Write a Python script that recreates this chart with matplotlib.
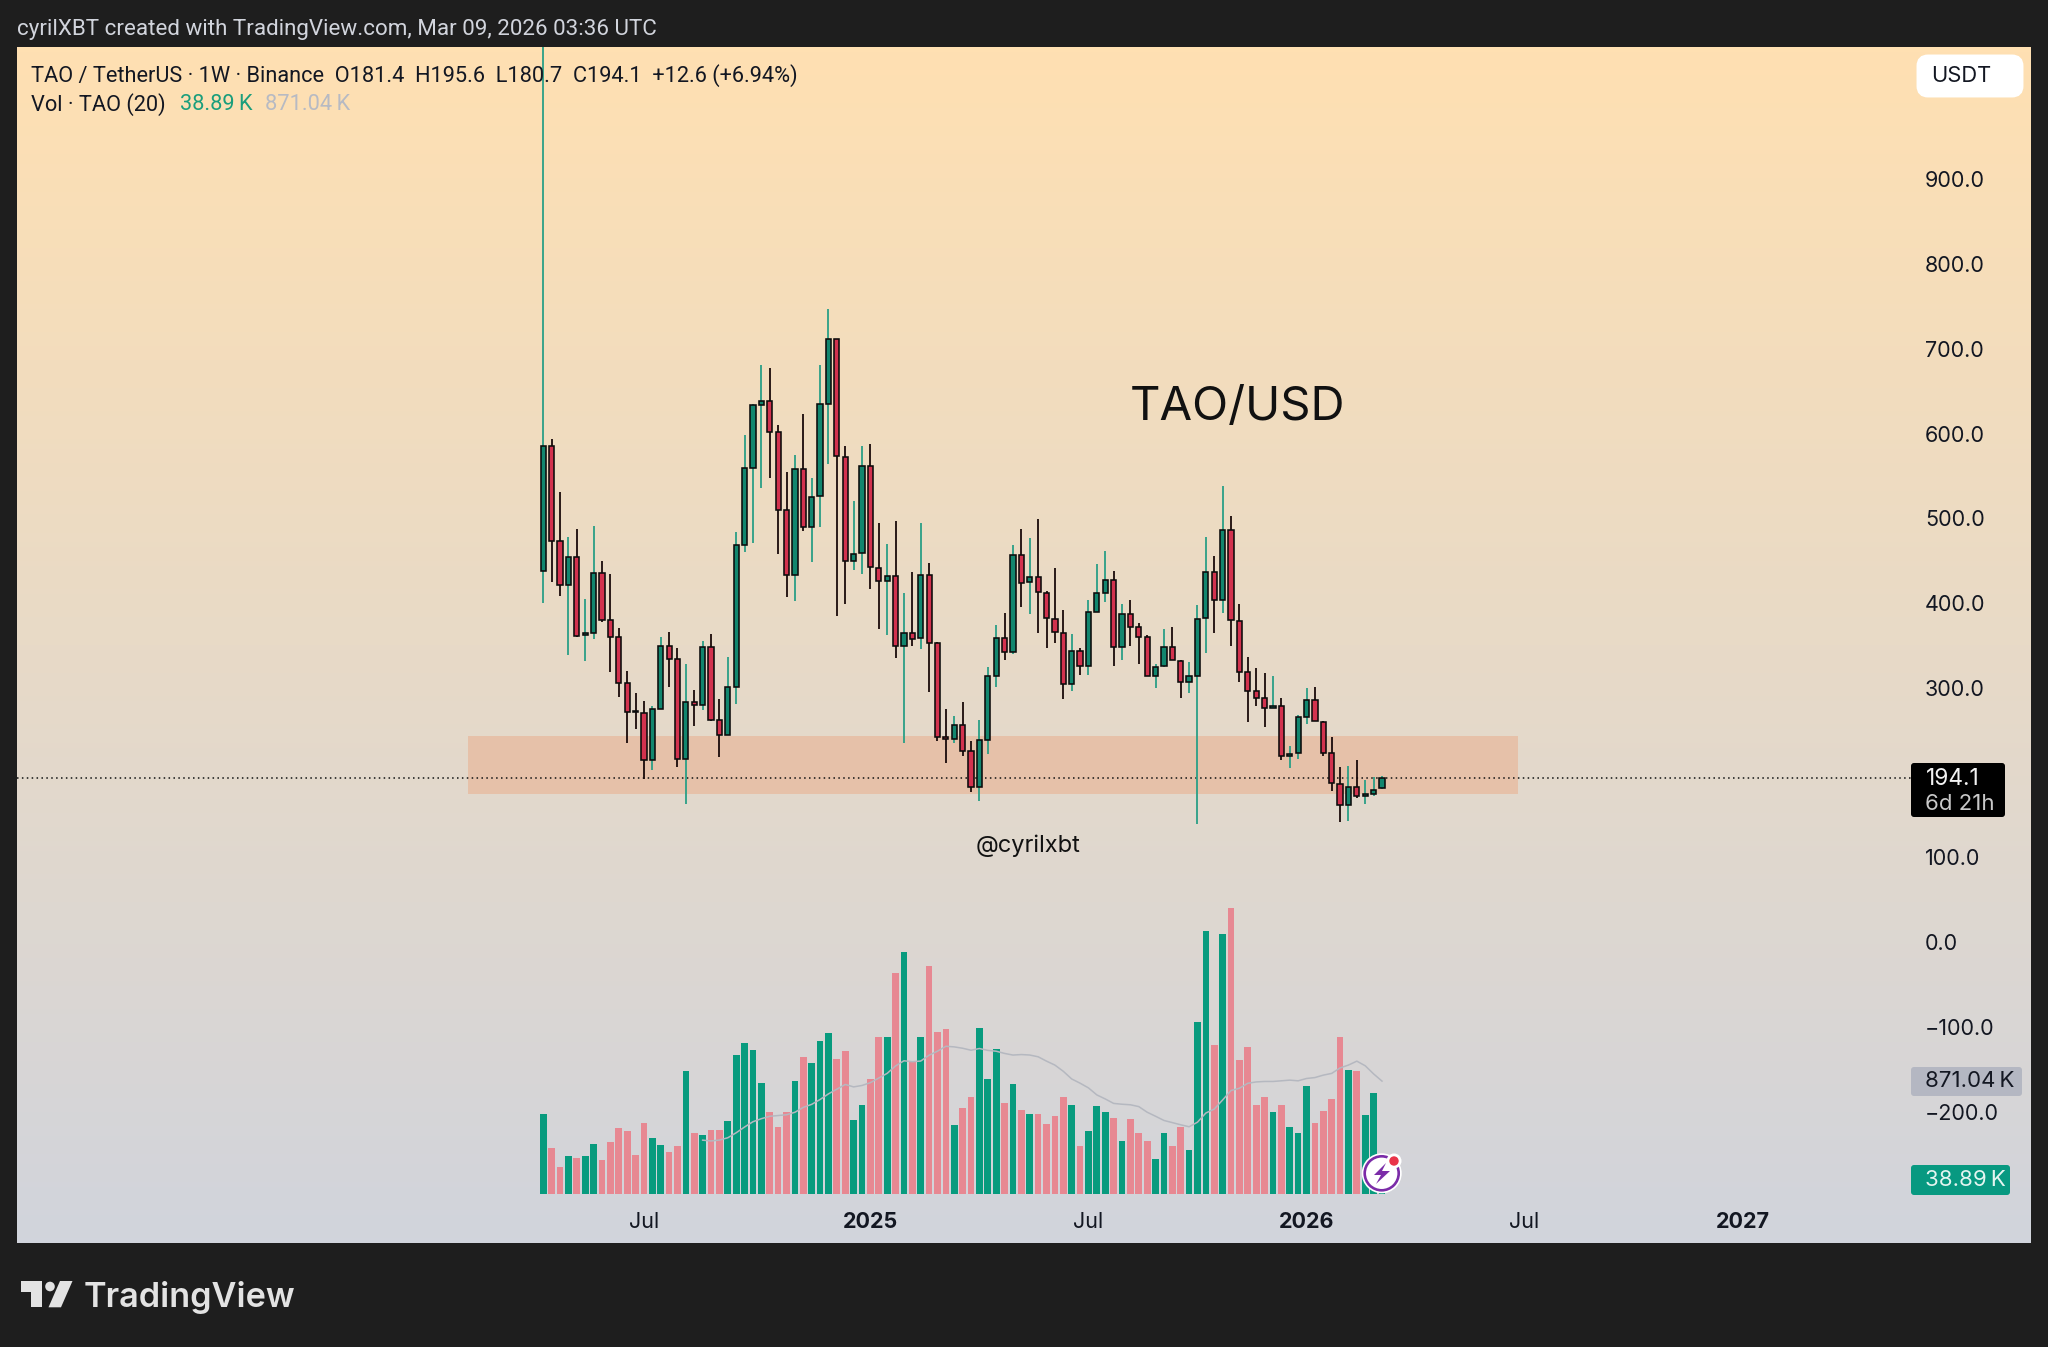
import numpy as np
import pandas as pd
import matplotlib
matplotlib.use("Agg")
import matplotlib.pyplot as plt
from matplotlib.patches import Rectangle, FancyBboxPatch, Polygon, Circle
from matplotlib.colors import LinearSegmentedColormap

# ---------- weekly OHLC (TAO/USDT), index 0 = week of Apr 8 2024 ----------
opens = [438.1,585.2,473.5,421.2,454.3,361.8,364.2,435,379.5,360.3,305.2,272.2,270.2,215.5,275.3,348.9,333.5,216.3,283.2,280,348.1,262,245,
         301.3,468.4,559.7,633.2,638.7,601.4,509.3,433,558.1,490,525.9,634.8,711.9,572.6,449.5,458.6,561.6,441.7,425.6,431.5,349.3,364.2,358.3,432.6,
         352.4,242.3,239.9,256,225.3,182.5,239.1,314.2,359.1,342.6,457,424.8,430.3,412.2,381.5,365,304.4,343.7,325.6,390.1,412.2,427.5,348.4,387.4,371.3,360.2,
         314.6,325.6,348.4,332.3,306.4,314.2,381.9,436.6,403.5,486.5,379.1,319.3,295.8,287.5,275.7,278.4,220.2,222.6,265.5,285.5,260,223.4,187.2,162.4,183.3,173,175.4,181.4]
highs = [1200,593.1,531.4,478.3,487.3,404.7,490.8,449.5,434.2,370.9,319.8,294.2,284.4,278.5,359.5,365.8,346.5,328,297.3,355.5,363.4,286.3,335.9,
         483.4,598.2,634.8,681.2,676.9,609.6,554.2,574.6,623,547.9,680.4,746.5,711.9,585.2,520.7,585.2,587.2,494,469.2,496.4,411.4,436.2,494,447.6,
         354.4,274.9,266.7,282.8,237.1,262.7,324.9,374,387.8,468.4,488,477,498.7,414.1,442,391.3,363,346.5,403.5,445.6,460.9,438.1,398.4,403.5,376.8,362.6,
         327.6,368.9,372,332.7,330.4,397.6,478.2,455.4,538.4,502.6,398.4,335.9,322.9,317,314.2,287.5,231.2,268.6,299.3,301.3,261.5,241.5,206.9,207.7,214.7,191.2,194.3,195.6]
lows = [399.6,425.2,408.6,338.6,359.5,331.9,357.5,377.2,319,289.5,235.2,251.3,192.3,203,275.3,300.5,206.9,162.8,254.9,273.7,261.2,218.7,245,
        280.8,459.8,471.2,535.3,547.9,457.8,407.5,402.7,484.5,448.4,490,564.4,384.7,398.8,439.3,434.2,416.9,368.9,362.2,335.1,235.2,349.6,345.3,295.4,
        237.5,211.6,234.4,219.8,177,166.4,221.8,300.5,332.7,339.4,394.9,387.4,365,346.5,353.2,286.3,296.5,315,315,389.7,400.8,326,332.7,349.2,328,314.6,
        300.1,324.9,332.7,287.9,294.2,140,341.4,365,387.8,349.6,306.8,260,278.4,253.7,275.7,215.5,205.7,216.7,257.6,260.7,219.8,178.5,142,143.2,170.3,162.8,172.3,180.7]
closes = [585.2,473.5,421.2,454.3,361,364.2,435,379.5,360.3,305.2,271.4,271.4,215.5,275.3,348.9,333.5,216.3,283.2,280,348.1,262,245,300.9,
          468.4,559.3,633.2,638.7,601.4,509.3,433,558.1,490,525.5,634.8,711.9,573.4,449.5,457.4,561.6,442.1,425.6,431.5,349.3,364.2,357.9,432.6,352.4,
          242.3,239.9,256,225.7,182.5,238.3,314.2,359.1,342.6,457,424,430.3,412.6,381.9,365.4,304.4,343.7,325.6,389.7,412.2,427.5,348.4,387.4,371.7,359.5,314.6,
          324.9,348.4,332.7,306.4,313.8,381.5,436.6,403.5,486.5,379.9,319.3,296.9,287.9,275.7,278.4,219.4,222.2,265.1,285.5,260.7,223.4,188,162.4,183.3,172.7,175,180.1,194.1]

# ---------- weekly volume, thousands of TAO ----------
volumes = [617,352,208,296,275,296,388,262,401,506,488,298,547,429,375,321,370,948,468,455,493,493,560,
           1069,1162,1110,856,630,517,630,869,1056,1010,1177,1244,1043,1100,571,689,887,1210,1210,1704,1866,1020,1210,1758,
           1249,1275,535,660,748,1277,889,1115,702,848,648,617,617,537,601,748,684,368,483,676,630,583,409,576,468,409,
           267,468,368,514,342,1324,2030,1149,2005,2205,1031,1136,689,748,630,684,514,468,830,550,643,735,1210,956,948,609,776,38.89]
vol_ma_period = 20

price_ticks = [900,800,700,600,500,400,300,100,0,-100,-200]
price_tick_labels = ["900.0","800.0","700.0","600.0","500.0","400.0","300.0","100.0","0.0","\u2212100.0","\u2212200.0"]
time_ticks = [12,39,65,91,117,143]
time_labels = ["Jul","2025","Jul","2026","Jul","2027"]
time_bold = [False,True,False,True,False,True]
zone_low, zone_high = 174.6, 243.0
zone_start, zone_end = -9.0, 116.2
last_price = 194.1

FONT = "Inter"
W, H = 2048, 1347
OUTER = "#1E1E1E"
UP_BODY, DN_BODY = "#12866E", "#D2324E"
UP_WICK, DN_WICK = "#2A9F86", "#1A0A0A"
UP_VOL, DN_VOL = "#089B7E", "#E78892"
INK = "#131722"

fig = plt.figure(figsize=(W/100, H/100), dpi=100, facecolor=OUTER)

def rect(x0, y0, x1, y1):
    return [x0/W, 1-y1/H, (x1-x0)/W, (y1-y0)/H]

# background gradient
bg = fig.add_axes(rect(17, 47, 2031, 1243), zorder=0)
cmap = LinearSegmentedColormap.from_list("pane", ["#FFE0B2", "#D1D4DC"])
bg.imshow(np.linspace(0, 1, 256)[:, None], cmap=cmap, aspect="auto", vmin=0, vmax=1)
bg.set_axis_off()

xlim = ((17-543.3)/8.387, (1911-543.3)/8.387)
idx = np.arange(len(opens))
o, h, l, c = map(np.array, (opens, highs, lows, closes))
up = c >= o

# volume pane
av = fig.add_axes(rect(17, 47, 1911, 1205), zorder=1)
av.patch.set_visible(False)
av.set_xlim(*xlim); av.set_ylim(-85, 8844)
av.bar(idx, volumes, width=0.8, color=[UP_VOL if u else DN_VOL for u in up], linewidth=0)
ma = pd.Series(volumes).rolling(vol_ma_period).mean()
av.plot(idx, ma, color="#B5B8C0", lw=1.1)
av.set_axis_off()

# price pane
ax = fig.add_axes(rect(17, 47, 1911, 1205), zorder=2)
ax.patch.set_visible(False)
ax.set_xlim(*xlim); ax.set_ylim(-310, 1056)
for s in ax.spines.values():
    s.set_visible(False)
ax.add_patch(Rectangle((zone_start, zone_low), zone_end-zone_start, zone_high-zone_low,
                       facecolor="#E6C1A9", edgecolor="none", zorder=1))
ax.axhline(last_price, color="#111111", lw=1.1, ls=(0, (1, 2.2)), zorder=2)
ax.vlines(idx, l, h, colors=[UP_WICK if u else DN_WICK for u in up], lw=1.3, zorder=3)
ax.bar(idx, np.abs(c-o), bottom=np.minimum(o, c), width=0.62,
       color=[UP_BODY if u else DN_BODY for u in up], edgecolor="#0B0B0B", linewidth=1.15, zorder=4)
ax.set_yticks(price_ticks)
ax.set_yticklabels(price_tick_labels, fontsize=15.5, color=INK, family=FONT, ha="left")
ax.yaxis.tick_right()
ax.tick_params(axis="y", length=0, pad=10)
ax.set_xticks(time_ticks)
ax.set_xticklabels(time_labels, fontsize=15.5, color=INK, family=FONT)
for t, b in zip(ax.get_xticklabels(), time_bold):
    t.set_fontweight("bold" if b else "normal")
ax.tick_params(axis="x", length=0, pad=5)

# overlay in pixel coordinates
ov = fig.add_axes([0, 0, 1, 1], zorder=5)
ov.set_xlim(0, W); ov.set_ylim(H, 0); ov.set_axis_off(); ov.patch.set_visible(False)

def txt(x, y, s, size, color=INK, **kw):
    kw.setdefault("family", FONT); kw.setdefault("va", "center"); kw.setdefault("ha", "left")
    ov.text(x, y, s, fontsize=size, color=color, **kw)

txt(17, 29, "cyrilXBT created with TradingView.com, Mar 09, 2026 03:36 UTC", 16.1, "#D1D4DC", family="Roboto")
txt(31, 75.5, "TAO / TetherUS \u00b7 1W \u00b7 Binance  O181.4  H195.6  L180.7  C194.1  +12.6 (+6.94%)", 15.7, family="Roboto")
txt(31, 104.5, "Vol \u00b7 TAO (20)", 15.7, family="Roboto")
txt(180, 104.5, "38.89\u2009K", 15.7, "#1B9E7C", family="Roboto")
txt(265, 104.5, "871.04\u2009K", 15.7, "#B7BAC3", family="Roboto")
txt(1237, 408, "TAO/USD", 34, "#111111", ha="center")
txt(1028, 845.5, "@cyrilxbt", 17, "#111111", ha="center")

ov.add_patch(FancyBboxPatch((1920, 58), 100, 36, boxstyle="round,pad=0,rounding_size=8", mutation_aspect=1,
                            fc="#FFFFFF", ec="#FFFFFF", lw=5))
txt(1931, 76, "USDT", 15.8)

ov.add_patch(FancyBboxPatch((1911, 763), 94, 54, boxstyle="round,pad=0,rounding_size=3", fc="#000000", ec="none"))
txt(1926, 779, "194.1", 16.3, "#F2F2F2")
txt(1925, 804, "6d 21h", 16, "#C8C8C8")
ov.add_patch(FancyBboxPatch((1911, 1067), 111, 29, boxstyle="round,pad=0,rounding_size=3", fc="#B4B7C2", ec="none"))
txt(1925, 1081, "871.04\u2009K", 16)
ov.add_patch(FancyBboxPatch((1911, 1165), 99, 30, boxstyle="round,pad=0,rounding_size=3", fc="#089981", ec="none"))
txt(1925, 1180, "38.89\u2009K", 16, "#E4F5F0")

# streaks badge
ov.add_patch(Circle((1381.7, 1173.3), 20, fc="#FFFFFF", ec="none"))
ov.add_patch(Circle((1381.7, 1173.3), 17, fc="#FFFFFF", ec="#7B2CA8", lw=1.9))
ov.add_patch(Polygon([(1386, 1163), (1374, 1175), (1381, 1175), (1376, 1184), (1390, 1171), (1382, 1171)],
                     closed=True, fc="#7B2CA8", ec="none"))
ov.add_patch(Circle((1394, 1161), 7.5, fc="#FFFFFF", ec="none"))
ov.add_patch(Circle((1394, 1161), 4.7, fc="#E9344A", ec="none"))

# footer logo
LOGO = "#E3E3E3"
ov.add_patch(Polygon([(20.7, 1281), (41.7, 1281), (41.7, 1307.3), (30.7, 1307.3), (30.7, 1292), (20.7, 1292)],
                     closed=True, fc=LOGO, ec="none"))
ov.add_patch(Circle((50, 1286.5), 4.8, fc=LOGO, ec="none"))
ov.add_patch(Polygon([(60, 1281), (72.5, 1281), (61, 1307.3), (48.5, 1307.3)], closed=True, fc=LOGO, ec="none"))
txt(84, 1297, "TradingView", 24.7, LOGO, fontweight="semibold")

fig.savefig("out.png", dpi=100, facecolor=OUTER)
